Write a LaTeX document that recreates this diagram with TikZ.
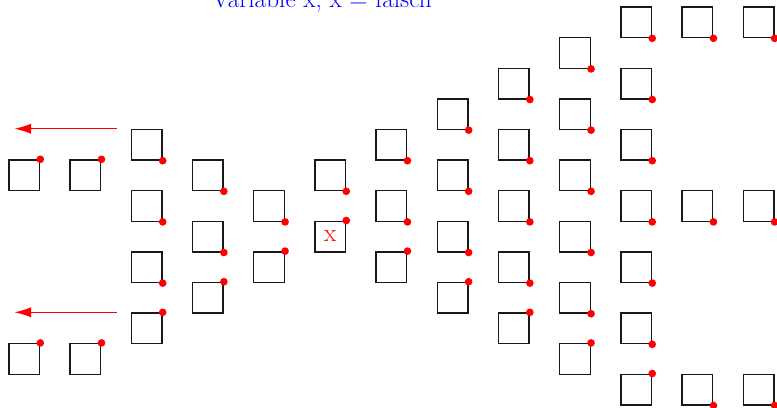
\documentclass[tikz,border=0pt]{standalone}
\usepackage{tikz}
\usetikzlibrary{arrows.meta, positioning}
\tikzset{
  cell/.style={
    rectangle, draw=black!90, line width=1.3pt,
    minimum size=1cm, inner sep=0pt
  },
  redspot/.style={circle, fill=red, inner sep=0pt, minimum size=0.25cm},
  back/.style={-{Latex[length=0.55cm, width=0.34cm]}, draw=red, line width=1.3pt},
  lbl/.style={font=\fontsize{23.5}{28}\selectfont}
}

\begin{document}
\begin{tikzpicture}
  \useasboundingbox (-0.794,-6.60) rectangle (24.60,6.73);

  % Cells: column / row (from top) / corner of the red spot
  \foreach \i/\k/\c in {
      0/5/north east, 0/11/north east,
      1/5/north east, 1/11/north east,
      2/4/south east, 2/6/south east, 2/8/south east, 2/10/north east,
      3/5/south east, 3/7/south east, 3/9/north east,
      4/6/south east, 4/8/north east,
      5/5/south east, 5/7/north east,
      6/4/south east, 6/6/south east, 6/8/north east,
      7/3/south east, 7/5/south east, 7/7/south east, 7/9/north east,
      8/2/south east, 8/4/south east, 8/6/south east, 8/8/south east,
      8/10/north east,
      9/1/south east, 9/3/south east, 9/5/south east, 9/7/south east,
      9/9/south east, 9/11/north east,
      10/0/south east, 10/2/south east, 10/4/south east, 10/6/south east,
      10/8/south east, 10/10/south east, 10/12/north east,
      11/0/south east, 11/6/south east, 11/12/south east,
      12/0/south east, 12/6/south east, 12/12/south east}{
    \node[cell] (s\i r\k) at (2*\i,6-\k) {};
    \node[redspot] (d\i r\k) at (s\i r\k.\c) {};
  }

  % Variable in the middle
  \node[lbl, text=red] (xvar) at (s5r7) {x};

  % Title
  \node[lbl, text=blue, anchor=base] (title) at (9.73,6.5) {Variable x, x = falsch};

  % Arrows to the left
  \coordinate[left=0.44cm of s2r4.north west] (up0);
  \coordinate[left=3.36cm of up0] (up1);
  \coordinate[left=0.44cm of s2r10.north west] (lo0);
  \coordinate[left=3.36cm of lo0] (lo1);
  \draw[back] (up0) -- (up1);
  \draw[back] (lo0) -- (lo1);
\end{tikzpicture}
\end{document}
